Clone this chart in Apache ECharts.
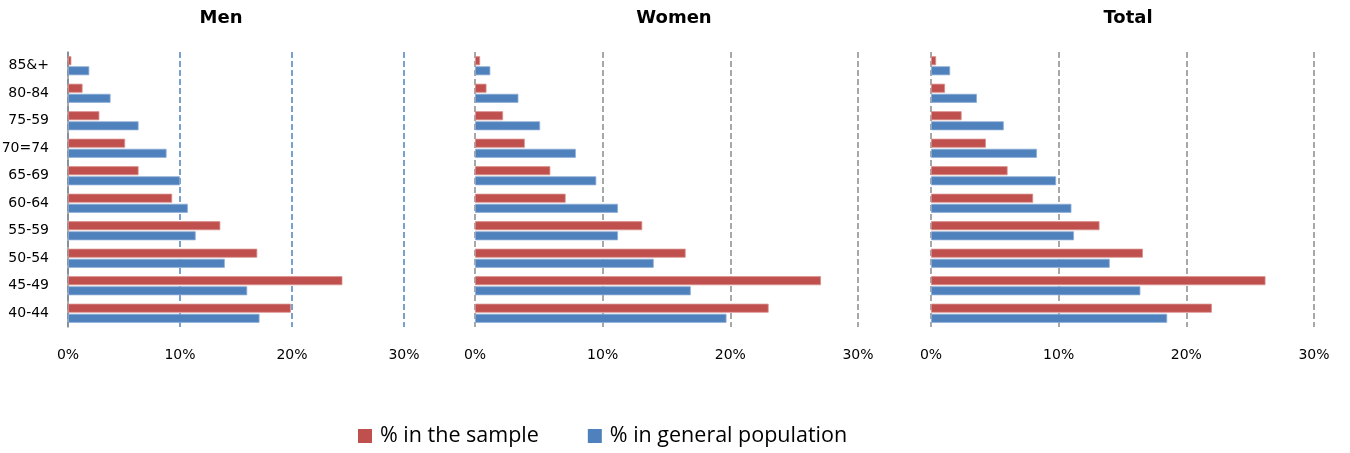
<!DOCTYPE html>
<html>
<head>
<meta charset="utf-8">
<script src="https://cdn.jsdelivr.net/npm/echarts@6/dist/echarts.min.js"></script>
<style>
html,body{margin:0;padding:0;background:#fff;}
#chart{width:1350px;height:453px;}
</style>
</head>
<body>
<div id="chart"></div>
<script>
// Age groups (bottom to top)
var categories = ['40-44','45-49','50-54','55-59','60-64','65-69','70=74','75-59','80-84','85&+'];
var panelTitles = ['Men','Women','Total'];
var seriesNames = ['% in the sample','% in general population'];
var xTicks = [0,10,20,30];

// Men
var menSample     = [19.9,24.5,16.9,13.6,9.3,6.3,5.1,2.8,1.3,0.3];
var menPopulation = [17.1,16.0,14.0,11.4,10.7,10.0,8.8,6.3,3.8,1.9];
// Women
var womenSample     = [23.0,27.1,16.5,13.1,7.1,5.9,3.9,2.2,0.9,0.4];
var womenPopulation = [19.7,16.9,14.0,11.2,11.2,9.5,7.9,5.1,3.4,1.2];
// Total
var totalSample     = [22.0,26.2,16.6,13.2,8.0,6.0,4.3,2.4,1.1,0.4];
var totalPopulation = [18.5,16.4,14.0,11.2,11.0,9.8,8.3,5.7,3.6,1.5];

var sampleData = [menSample, womenSample, totalSample];
var popData = [menPopulation, womenPopulation, totalPopulation];

var RED = '#C0504D', BLUE = '#4F81BD', GREY = '#8C8C8C';
var grids = [
  {left: 68, top: 52, width: 336, height: 275, outerBoundsMode: 'none', containLabel: false},
  {left: 475, top: 52, width: 383, height: 275, outerBoundsMode: 'none', containLabel: false},
  {left: 931, top: 52, width: 383, height: 275, outerBoundsMode: 'none', containLabel: false}
];
var titleCenters = [216, 669, 1123];

var option = {
  animation: false,
  backgroundColor: '#fff',
  title: panelTitles.map(function(t, i){
    return {text: t, left: titleCenters[i], top: 4, textAlign: 'center',
      textStyle: {fontFamily: 'DejaVu Sans', fontWeight: 'bold', fontSize: 18, color: '#000'}};
  }),
  legend: {
    data: seriesNames,
    left: 358, top: 425, padding: 0,
    icon: 'rect', itemWidth: 14, itemHeight: 14, itemGap: 49,
    itemStyle: {borderWidth: 0},
    textStyle: {fontFamily: 'Open Sans', fontSize: 21.5, color: '#000', padding: [0,0,0,3]}
  },
  grid: grids,
  xAxis: grids.map(function(g, i){
    return {
      type: 'value', gridIndex: i, min: xTicks[0], max: xTicks[xTicks.length-1], interval: 10,
      axisLine: {show: false}, axisTick: {show: false},
      axisLabel: {formatter: '{value}%', fontFamily: 'DejaVu Sans', fontSize: 14, color: '#000', margin: 21},
      splitLine: {show: true, lineStyle: {color: i === 0 ? BLUE : GREY, type: [6,3], width: 1.5}}
    };
  }),
  yAxis: grids.map(function(g, i){
    return {
      type: 'category', gridIndex: i, data: categories,
      axisTick: {show: false},
      axisLine: {show: i === 0, lineStyle: {color: GREY, width: 1.5}},
      axisLabel: {show: i === 0, fontFamily: 'DejaVu Sans', fontSize: 14, color: '#000', margin: 19}
    };
  }),
  series: []
};

for (var i = 0; i < 3; i++) {
  option.series.push({
    name: seriesNames[0], type: 'bar', xAxisIndex: i, yAxisIndex: i,
    data: sampleData[i], barWidth: 9, barGap: '12%',
    itemStyle: {color: RED, borderColor: '#D9908E', borderWidth: 0.8}
  });
  option.series.push({
    name: seriesNames[1], type: 'bar', xAxisIndex: i, yAxisIndex: i,
    data: popData[i], barWidth: 9, barGap: '12%',
    itemStyle: {color: BLUE, borderColor: '#8FAFD8', borderWidth: 0.8}
  });
}

var chart = echarts.init(document.getElementById('chart'), null, {renderer: 'canvas'});
chart.setOption(option);
</script>
</body>
</html>
